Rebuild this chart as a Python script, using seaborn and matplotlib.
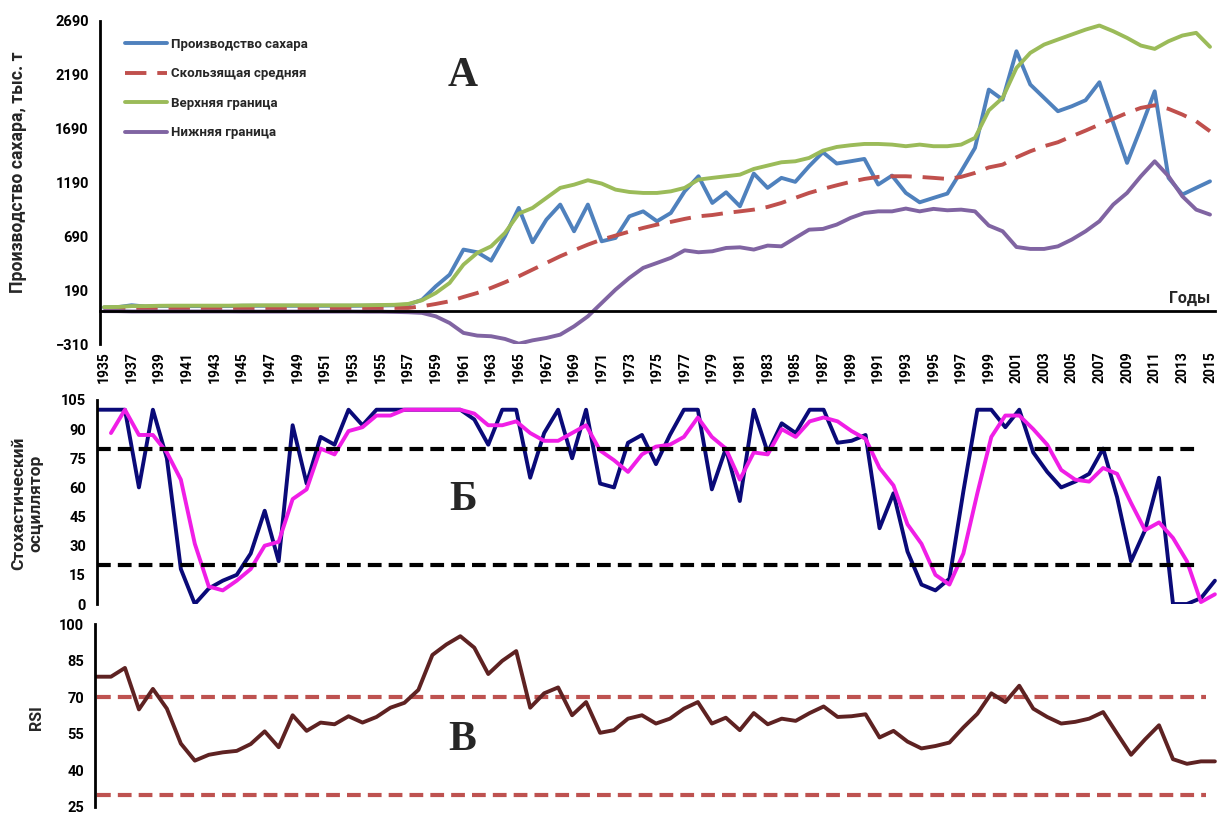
import numpy as np
import pandas as pd
import matplotlib
matplotlib.use("Agg")
import matplotlib.pyplot as plt
import seaborn as sns

# -----------------------------
# Data
# -----------------------------
years = list(range(1935, 2016))

production = [30, 32, 50, 38, 42, 42, 42, 42, 42, 42, 45, 45, 45, 45, 45, 45, 45, 45, 45, 46,
              48, 50, 56, 100, 226, 334, 567, 542, 464, 690, 954, 635, 845, 985, 737, 985,
              644, 675, 876, 922, 830, 907, 1108, 1248, 1000, 1099, 969, 1273, 1140, 1233,
              1196, 1341, 1471, 1366, 1387, 1409, 1171, 1254, 1093, 1006, 1047, 1087, 1294,
              1511, 2053, 1960, 2409, 2100, 1976, 1852, 1898, 1954, 2121, 1744, 1372, 1697,
              2037, 1233, 1078, 1140, 1201]

moving_avg = [20, 20, 21, 21, 22, 22, 22, 22, 22, 22, 23, 23, 23, 23, 23, 23, 23, 24, 24, 24,
              24, 25, 25, 40, 62, 87, 127, 164, 211, 263, 319, 381, 443, 505, 560, 613,
              660, 697, 734, 768, 799, 824, 852, 876, 888, 907, 922, 938, 963, 1000,
              1047, 1093, 1130, 1164, 1196, 1223, 1242, 1248, 1248, 1242, 1233, 1223, 1242,
              1279, 1330, 1356, 1424, 1480, 1527, 1564, 1619, 1672, 1728, 1781, 1836, 1883,
              1907, 1874, 1821, 1759, 1666]

upper_band = [32, 34, 42, 42, 45, 46, 46, 46, 46, 46, 48, 49, 49, 49, 49, 49, 49, 49, 49, 50,
              52, 54, 62, 96, 164, 257, 427, 536, 597, 721, 901, 954, 1047, 1140, 1170, 1211,
              1180, 1124, 1102, 1093, 1093, 1108, 1140, 1217, 1233, 1248, 1263, 1316, 1347, 1378,
              1387, 1418, 1486, 1520, 1536, 1548, 1548, 1542, 1527, 1542, 1527, 1527, 1542,
              1604, 1860, 1976, 2254, 2394, 2471, 2518, 2564, 2610, 2648, 2595, 2533, 2462,
              2431, 2502, 2555, 2580, 2450]

lower_band = [-5, -5, -8, -8, -8, -8, -8, -8, -8, -8, -9, -9, -9, -9, -9, -9, -9, -9, -9, -10,
              -10, -12, -15, -21, -53, -115, -207, -232, -238, -263, -307, -276, -254, -223, -146, -53,
              71, 195, 304, 397, 443, 490, 560, 542, 551, 582, 588, 567, 604, 597,
              675, 752, 759, 799, 861, 907, 922, 922, 948, 922, 945, 932, 938,
              922, 790, 737, 591, 573, 573, 597, 660, 737, 830, 985, 1093, 1248,
              1387, 1248, 1062, 938, 892]

stoch_k = [100, 100, 100, 60, 100, 75, 18, 0, 8, 12, 15, 26, 48, 22, 92, 62, 86, 82, 100, 92,
           100, 100, 100, 100, 100, 100, 100, 95, 82, 100, 100, 65, 88, 100, 75, 100,
           62, 60, 83, 87, 72, 87, 100, 100, 59, 80, 53, 100, 78, 93,
           88, 100, 100, 83, 84, 87, 39, 57, 27, 10, 7, 13, 58,
           100, 100, 91, 100, 78, 68, 60, 63, 67, 80, 55, 22, 38,
           65, 0, 0, 3, 12]

stoch_d = [np.nan, 88, 100, 87, 87, 78, 64, 31, 9, 7, 12, 18, 30, 32, 54, 59, 80, 77, 89, 91,
           97, 97, 100, 100, 100, 100, 100, 98, 92, 92, 94, 88, 84, 84, 88, 92,
           79, 74, 68, 77, 81, 82, 86, 96, 86, 80, 64, 78, 77, 90,
           86, 94, 96, 94, 89, 85, 70, 61, 41, 31, 15, 10, 26,
           57, 86, 97, 97, 90, 82, 69, 64, 63, 70, 67, 52, 38,
           42, 34, 22, 1, 5]

rsi = [78.4, 78.4, 82, 65, 73.4, 65.3, 51, 44, 46.4, 47.4, 48, 50.8, 56, 49.5, 62.6, 56.2,
       59.6, 58.9, 62.2, 59.6, 61.9, 65.7, 67.7, 73, 87.3, 91.6, 95, 90.3, 79.5, 84.9, 88.9,
       65.7, 71.6, 74, 62.6, 68, 55.4, 56.5, 61.2, 62.6, 59.2, 61.2, 65.3, 68, 59.2, 61.6,
       56.5, 63.5, 58.9, 61.2, 60.3, 63.5, 66.2, 61.9, 62.2, 63, 53.5, 56.2, 51.8, 49, 50,
       51.4, 57.6, 63.2, 71.6, 68, 74.7, 65.3, 61.9, 59.2, 59.9, 61.2, 63.9, 55.1, 46.4,
       52.7, 58.5, 44.6, 42.7, 43.7, 43.7]

labels_a = ["Производство сахара", "Скользящая средняя", "Верхняя граница", "Нижняя граница"]
yticks_a = [-310, 190, 690, 1190, 1690, 2190, 2690]
yticks_b = [0, 15, 30, 45, 60, 75, 90, 105]
yticks_c = [25, 40, 55, 70, 85, 100]

df = pd.DataFrame({"year": years, "prod": production, "ma": moving_avg,
                   "up": upper_band, "low": lower_band,
                   "k": stoch_k, "d": stoch_d, "rsi": rsi})

# -----------------------------
# Style
# -----------------------------
sns.set_style("white")
plt.rcParams["font.family"] = ["Roboto", "DejaVu Sans"]
plt.rcParams["font.weight"] = "bold"

W, H = 1227, 817
fig = plt.figure(figsize=(W / 100, H / 100), dpi=100)


def px_axes(left, top, right, bottom):
    return fig.add_axes([left / W, 1 - bottom / H, (right - left) / W, (bottom - top) / H])


def style_left(ax, ticks):
    for s in ["top", "right", "bottom"]:
        ax.spines[s].set_visible(False)
    ax.spines["left"].set_linewidth(2)
    ax.spines["left"].set_color("black")
    ax.set_yticks(ticks)
    ax.tick_params(axis="y", direction="out", length=5, width=1.5, colors="black",
                   labelsize=10.5, pad=3)
    for lbl in ax.get_yticklabels():
        lbl.set_fontweight("bold")
    ax.set_xlabel("")
    ax.set_ylabel("")


lw = 2.8

# -----------------------------
# Panel A
# -----------------------------
axA = px_axes(100, 21, 1215, 344)
sns.lineplot(data=df, x="year", y="prod", ax=axA, color="#4F81BD", lw=lw, label=labels_a[0])
sns.lineplot(data=df, x="year", y="ma", ax=axA, color="#C0504D", lw=lw,
             linestyle=(0, (5.5, 2.8)), label=labels_a[1])
sns.lineplot(data=df, x="year", y="up", ax=axA, color="#9BBB59", lw=lw, label=labels_a[2])
sns.lineplot(data=df, x="year", y="low", ax=axA, color="#8064A2", lw=lw, label=labels_a[3])
axA.set_xlim(1935 - 4 / 13.83, 2015 + 5 / 13.83)
axA.set_ylim(-310, 2690)
style_left(axA, yticks_a)
axA.spines["bottom"].set_visible(True)
axA.spines["bottom"].set_position(("data", 0))
axA.spines["bottom"].set_linewidth(2)
axA.spines["bottom"].set_color("black")
axA.set_xticks(years)
axA.tick_params(axis="x", direction="out", length=5, width=1.5, colors="black",
                labelbottom=False)

sec = axA.secondary_xaxis("bottom")
sec.set_xticks(years[::2], labels=[str(y) for y in years[::2]])
sec.tick_params(axis="x", length=0, pad=5, labelrotation=90, labelsize=10, colors="black")
sec.spines["bottom"].set_visible(False)
for lbl in sec.get_xticklabels():
    lbl.set_fontweight("bold")

leg = axA.legend(loc="upper left", bbox_to_anchor=(0.012, 0.985), frameon=False,
                 handlelength=3.2, handletextpad=0.3, labelspacing=1.25,
                 prop={"weight": "bold", "size": 9.5})

fig.text(18 / W, 1 - 172 / H, "Производство сахара, тыс. т", rotation=90,
         ha="center", va="center", fontsize=12.7, fontweight="bold")
fig.text(1190 / W, 1 - 298 / H, "Годы", ha="center", va="center",
         fontsize=11.5, fontweight="bold")

# -----------------------------
# Panel B (stochastic oscillator)
# -----------------------------
axB = px_axes(97, 400, 1217, 604)
axB.axhline(80, xmax=0.985, color="black", lw=3, linestyle=(0, (3.3, 1.7)), zorder=3)
axB.axhline(20, xmax=0.985, color="black", lw=3, linestyle=(0, (3.3, 1.7)), zorder=3)
sns.lineplot(data=df, x="year", y="k", ax=axB, color="#0A0A78", lw=lw, legend=False)
sns.lineplot(data=df, x="year", y="d", ax=axB, color="#F01EE6", lw=lw, legend=False)
axB.set_xlim(1935, 2015.15)
axB.set_ylim(0, 105)
style_left(axB, yticks_b)
axB.set_xticks([])
fig.text(27 / W, 1 - 503 / H, "Стохастический\nосциллятор", rotation=90,
         ha="center", va="center", multialignment="center", fontsize=12.5,
         fontweight="bold", linespacing=1.15)

# -----------------------------
# Panel C (RSI)
# -----------------------------
axC = px_axes(95, 624, 1217, 807)
axC.axhline(70, xmin=0.002, xmax=0.99, color="#BE5250", lw=3, linestyle=(0, (3.3, 1.7)))
axC.axhline(30, xmin=0.002, xmax=0.99, color="#BE5250", lw=3, linestyle=(0, (3.3, 1.7)))
sns.lineplot(data=df, x="year", y="rsi", ax=axC, color="#5E2222", lw=lw, legend=False)
axC.set_xlim(1935 - 2 / 13.95, 2015.15)
axC.set_ylim(25, 100)
style_left(axC, yticks_c)
axC.set_xticks([])
fig.text(36 / W, 1 - 718 / H, "RSI", rotation=90, ha="center", va="center",
         fontsize=11.5, fontweight="bold")

# Panel letters
for txt, (x, y) in zip(["А", "Б", "В"], [(463, 76), (463, 500), (462, 740)]):
    fig.text(x / W, 1 - y / H, txt, ha="center", va="center", fontsize=30,
             fontweight="bold", family=["Liberation Serif", "DejaVu Serif"])

fig.savefig("out.png", dpi=100)
